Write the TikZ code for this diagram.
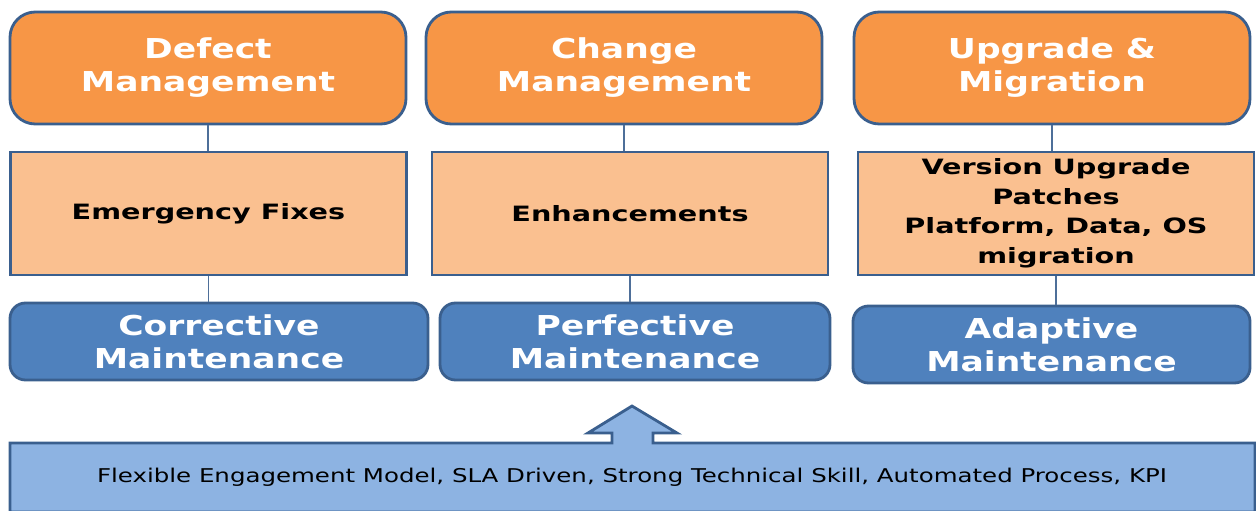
\documentclass[tikz,border=0pt]{standalone}
\usepackage{fontspec}
\setmainfont{DejaVu Sans}[FakeStretch=1.29]
\newfontfamily\titleFont{DejaVu Sans}[FakeStretch=1.26]
\newfontfamily\taskFont{DejaVu Sans}[FakeStretch=1.36]
\definecolor{mgmtOrange}{HTML}{F79646}
\definecolor{taskOrange}{HTML}{FAC090}
\definecolor{maintBlue}{HTML}{4F81BD}
\definecolor{baseBlue}{HTML}{8DB3E2}
\definecolor{edgeBlue}{HTML}{3A5F8E}
\newcommand{\px}{0.7115pt}
\newcommand{\edgeWidth}{2pt}
\tikzset{
  mgmtBox/.style={draw=edgeBlue, line width=\edgeWidth, fill=mgmtOrange, rounded corners=18pt,
    minimum width=396*\px, minimum height=112*\px, align=center, text=white,
    font=\titleFont\fontsize{19.5}{23.5}\selectfont\bfseries},
  taskBox/.style={draw=edgeBlue, line width=\edgeWidth, fill=taskOrange,
    minimum width=396*\px, minimum height=123*\px, align=center, text=black,
    font=\taskFont\fontsize{15}{21}\selectfont\bfseries},
  maintBox/.style={draw=edgeBlue, line width=\edgeWidth, fill=maintBlue, rounded corners=11pt,
    minimum height=77*\px, align=center, text=white,
    font=\titleFont\fontsize{19.5}{23.5}\selectfont\bfseries},
  link/.style={draw=edgeBlue!90!white, line width=1.4pt}
}

\begin{document}
\begin{tikzpicture}[x=\px, y=-\px]
\useasboundingbox (0,0) rectangle (1256,511);

% management row
\node[mgmtBox] (defect) at (208,68) {Defect\\Management};
\node[mgmtBox] (change) at (624,68) {Change\\Management};
\node[mgmtBox] (upgrade) at (1052,68) {Upgrade \&\\Migration};

% activities
\node[taskBox] (fixes) at (208.5,213.5) {Emergency Fixes};
\node[taskBox] (enhance) at (630,213.5) {Enhancements};
\node[taskBox] (version) at (1056,213.5) {Version Upgrade\\Patches\\Platform, Data, OS\\migration};

% maintenance types
\node[maintBox, minimum width=418*\px] (corrective) at (219,341.5) {Corrective\\Maintenance};
\node[maintBox, minimum width=390*\px] (perfective) at (635,341.5) {Perfective\\Maintenance};
\node[maintBox, minimum width=397*\px] (adaptive) at (1051.5,344.5) {Adaptive\\Maintenance};

\draw[link] (defect.south) -- (defect.south |- fixes.north);
\draw[link] (change.south) -- (change.south |- enhance.north);
\draw[link] (upgrade.south) -- (upgrade.south |- version.north);
\draw[link] (fixes.south) -- (fixes.south |- corrective.north);
\draw[link] (enhance.south) -- (enhance.south |- perfective.north);
\draw[link] (version.south) -- (version.south |- adaptive.north);

% base with arrow
\filldraw[draw=edgeBlue, line width=\edgeWidth, fill=baseBlue]
  (10,443) -- (612,443) -- (612,433) -- (588,433) -- (632,406) -- (677,433)
  -- (653,433) -- (653,443) -- (1255,443) -- (1255,512) -- (10,512) -- cycle;
\node[font=\fontsize{13.5}{15}\selectfont] (engagement) at (632,477)
  {Flexible Engagement Model, SLA Driven, Strong Technical Skill, Automated Process, KPI};
\end{tikzpicture}
\end{document}
